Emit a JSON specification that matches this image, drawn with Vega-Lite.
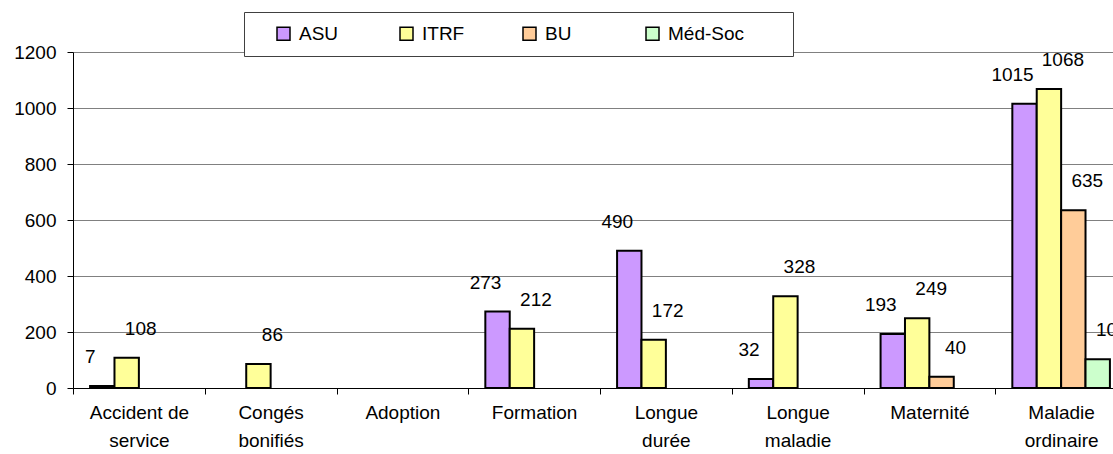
{
  "$schema": "https://vega.github.io/schema/vega-lite/v6.json",
  "width": 1040,
  "height": 336,
  "autosize": {"type": "none"},
  "padding": {"left": 73, "top": 52, "right": 0, "bottom": 66},
  "background": "white",
  "config": {"view": {"stroke": null}, "font": "Liberation Sans"},
  "data": {
    "values": [
      {"categorie": "Accident de service", "serie": "ASU", "valeur": 7},
      {"categorie": "Accident de service", "serie": "ITRF", "valeur": 108},
      {"categorie": "Congés bonifiés", "serie": "ITRF", "valeur": 86},
      {"categorie": "Formation", "serie": "ASU", "valeur": 273},
      {"categorie": "Formation", "serie": "ITRF", "valeur": 212},
      {"categorie": "Longue durée", "serie": "ASU", "valeur": 490},
      {"categorie": "Longue durée", "serie": "ITRF", "valeur": 172},
      {"categorie": "Longue maladie", "serie": "ASU", "valeur": 32},
      {"categorie": "Longue maladie", "serie": "ITRF", "valeur": 328},
      {"categorie": "Maternité", "serie": "ASU", "valeur": 193},
      {"categorie": "Maternité", "serie": "ITRF", "valeur": 249},
      {"categorie": "Maternité", "serie": "BU", "valeur": 40},
      {"categorie": "Maladie ordinaire", "serie": "ASU", "valeur": 1015},
      {"categorie": "Maladie ordinaire", "serie": "ITRF", "valeur": 1068},
      {"categorie": "Maladie ordinaire", "serie": "BU", "valeur": 635},
      {"categorie": "Maladie ordinaire", "serie": "Méd-Soc", "valeur": 103}
    ]
  },
  "encoding": {
    "x": {
      "field": "categorie",
      "type": "nominal",
      "sort": null,
      "scale": {
        "domain": ["Accident de service", "Congés bonifiés", "Adoption", "Formation", "Longue durée", "Longue maladie", "Maternité", "Maladie ordinaire"],
        "range": [0, 1054],
        "paddingInner": 0,
        "paddingOuter": 0
      },
      "axis": {
        "title": null,
        "labelAngle": 0,
        "tickBand": "extent",
        "tickSize": 6,
        "tickColor": "#000",
        "domainColor": "#000",
        "labelFontSize": 19,
        "labelColor": "#000",
        "labelPadding": 9,
        "labelLineHeight": 28,
        "labelExpr": "isString(datum.value) && lastindexof(datum.value, ' ') > 0 ? [substring(datum.value, 0, lastindexof(datum.value, ' ')), substring(datum.value, lastindexof(datum.value, ' ') + 1)] : datum.label",
        "grid": false
      }
    },
    "xOffset": {
      "field": "serie",
      "type": "nominal",
      "sort": null,
      "scale": {"domain": ["ASU", "ITRF", "BU", "Méd-Soc"], "paddingInner": 0, "paddingOuter": 0.7}
    },
    "y": {
      "field": "valeur",
      "type": "quantitative",
      "scale": {"domain": [0, 1200], "nice": false},
      "axis": {
        "title": null,
        "values": [0, 200, 400, 600, 800, 1000, 1200],
        "format": "d",
        "grid": true,
        "gridColor": "#808080",
        "domainColor": "#000",
        "tickColor": "#000",
        "tickSize": 6,
        "labelPadding": 11,
        "labelFontSize": 19,
        "labelColor": "#000"
      }
    }
  },
  "layer": [
    {
      "mark": {"type": "bar", "stroke": "#000", "strokeWidth": 2},
      "encoding": {
        "color": {
          "field": "serie",
          "type": "nominal",
          "scale": {"domain": ["ASU", "ITRF", "BU", "Méd-Soc"], "range": ["#CC99FF", "#FFFF99", "#FFCC99", "#CCFFCC"]},
          "legend": {
            "orient": "none",
            "legendX": 171,
            "legendY": -40,
            "direction": "horizontal",
            "columns": 4,
            "gridAlign": "all",
            "title": " ",
            "titleOrient": "right",
            "titlePadding": 37,
            "titleFontSize": 19,
            "padding": 12,
            "fillColor": "white",
            "strokeColor": "#404040",
            "symbolType": "square",
            "symbolSize": 169,
            "symbolStrokeColor": "#000",
            "symbolStrokeWidth": 1.5,
            "symbolOffset": 18,
            "labelOffset": 6,
            "labelFontSize": 19,
            "labelColor": "#000",
            "columnPadding": 3
          }
        }
      }
    },
    {
      "mark": {
        "type": "text",
        "dy": -29,
        "dx": {"expr": "datum.serie == 'ASU' ? -12 : 14"},
        "fontSize": 19,
        "color": "#000",
        "baseline": "middle"
      },
      "encoding": {"text": {"field": "valeur", "type": "quantitative"}}
    }
  ]
}
